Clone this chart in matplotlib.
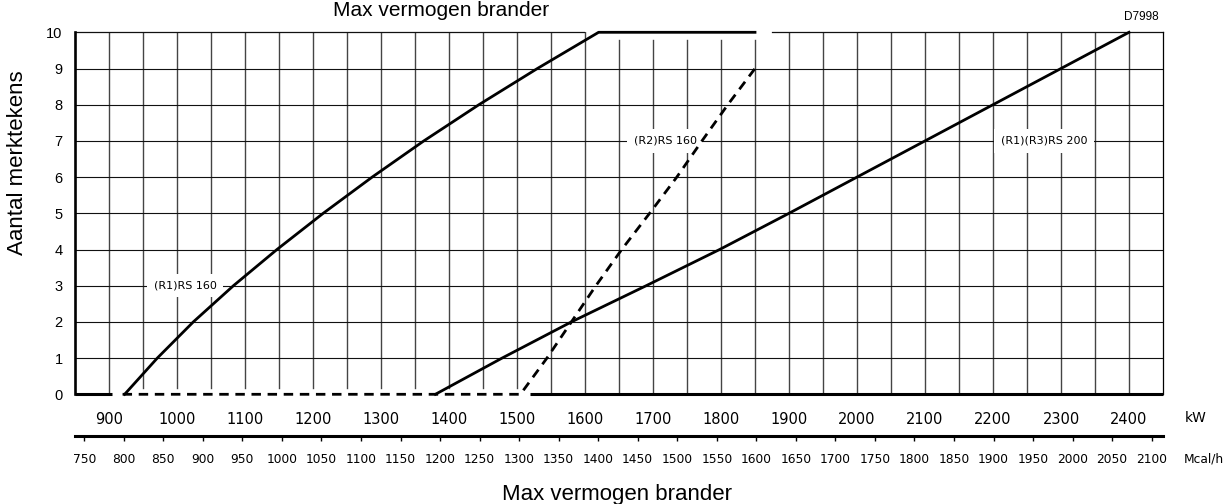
import matplotlib
matplotlib.use("Agg")
import matplotlib.pyplot as plt
import numpy as np

# ---------------- data ----------------
kw_ticks = list(range(900, 2401, 100))
mcal_ticks = list(range(750, 2101, 50))
y_ticks = list(range(0, 11))

rs160_r1_kw = [923, 971, 1024, 1083, 1147, 1215, 1287, 1363, 1444, 1530, 1620, 1850]
rs160_r1_n = [0, 1, 2, 3, 4, 5, 6, 7, 8, 9, 10, 10]

rs160_r2_kw = [920, 1505, 1544, 1580, 1616, 1654, 1695, 1735, 1772, 1810, 1850]
rs160_r2_n = [0, 0, 1, 2, 3, 4, 5, 6, 7, 8, 9]

rs200_kw = [1380, 1478, 1580, 1690, 1798, 1900, 2000, 2100, 2200, 2300, 2400]
rs200_n = [0, 1, 2, 3, 4, 5, 6, 7, 8, 9, 10]

base_solid_kw = [(850, 905), (1519, 2450)]
top_border_kw = [(850, 1598), (1875, 2450)]

label_texts = ["(R1)RS 160", "(R2)RS 160", "(R1)(R3)RS 200"]
label_kw = [1012, 1718, 2275]
label_n = [3, 7, 7]

KW_MIN, KW_MAX = 850, 2450


def kw_to_mcal(k):
    return (k + 8.5) * 0.86


# ---------------- figure ----------------
fig = plt.figure(figsize=(12.29, 5.04), dpi=100)
L, B, W, H = 75 / 1229, (504 - 394.3) / 504, 1088 / 1229, 362 / 504
ax = fig.add_axes([L, B, W, H])
ax.set_xlim(KW_MIN, KW_MAX)
ax.set_ylim(0, 10)

# grid
for x in np.arange(900, 2401, 50):
    y0 = 0.17 if 905 < x < 1515 else 0
    y1 = 9.8 if 1620 < x <= 1850 else 10
    ax.plot([x, x], [y0, y1], color="#444444", lw=1.0, zorder=1)
for y in range(1, 10):
    ax.plot([KW_MIN, KW_MAX], [y, y], color="#111111", lw=0.8, zorder=1)
for a, b in top_border_kw:
    ax.plot([a, b], [10, 10], color="#111111", lw=0.9, zorder=1, clip_on=False)
for a, b in base_solid_kw:
    ax.plot([a, b], [0, 0], color="black", lw=2.2, zorder=3, clip_on=False,
            solid_capstyle="butt")

# curves
ax.plot(rs160_r1_kw, rs160_r1_n, color="black", lw=2.0, zorder=3, clip_on=False)
ax.plot(rs200_kw, rs200_n, color="black", lw=2.0, zorder=3, clip_on=False)
ax.plot(rs160_r2_kw, rs160_r2_n, color="black", lw=2.0, zorder=3, clip_on=False,
        linestyle=(0, (3.4, 2.4)))

# curve labels
for t, xk, yn in zip(label_texts, label_kw, label_n):
    ax.text(xk, yn, t, fontsize=8, ha="center", va="center", zorder=2,
            family="DejaVu Sans",
            bbox=dict(boxstyle="square,pad=0.6", fc="white", ec="none"))

# spines & ticks
for s in ["top", "bottom"]:
    ax.spines[s].set_visible(False)
ax.spines["left"].set_linewidth(1.9)
ax.spines["right"].set_linewidth(0.9)
ax.set_yticks(y_ticks)
ax.set_yticklabels([str(v) for v in y_ticks], fontsize=10.5, family="Liberation Sans")
ax.tick_params(axis="y", length=0, pad=9)
ax.set_xticks(kw_ticks)
ax.set_xticklabels([str(v) for v in kw_ticks], fontsize=10.5, family="DejaVu Sans")
ax.tick_params(axis="x", length=0, pad=13)

# secondary Mcal/h axis
ax2 = fig.add_axes([L, (504 - 436) / 504, W, 1e-5])
ax2.set_xlim(kw_to_mcal(KW_MIN), kw_to_mcal(KW_MAX))
ax2.patch.set_visible(False)
for s in ["top", "left", "right"]:
    ax2.spines[s].set_visible(False)
ax2.spines["bottom"].set_linewidth(2.2)
ax2.set_yticks([])
ax2.set_xticks(mcal_ticks)
ax2.set_xticklabels([str(v) for v in mcal_ticks], fontsize=8.8, family="DejaVu Sans")
ax2.tick_params(axis="x", direction="out", length=3.5, width=1.0, pad=9)

# unit labels
fig.text(1185 / 1229, (504 - 418) / 504, "kW", fontsize=10, ha="left", va="center",
         family="DejaVu Sans")
fig.text(1184 / 1229, (504 - 459) / 504, "Mcal/h", fontsize=8.8, ha="left", va="center",
         family="DejaVu Sans")

# titles
fig.text(617 / 1229, 4 / 504, "Max vermogen brander", fontsize=16, ha="center",
         va="baseline", family="Liberation Sans")
fig.text(441 / 1229, 1 - 1 / 504, "Max vermogen brander", fontsize=15, ha="center",
         va="top", family="Liberation Sans")
fig.text(18 / 1229, (504 - 163) / 504, "Aantal merktekens", fontsize=16, ha="center",
         va="center", rotation=90, family="Liberation Sans")
fig.text(1141 / 1229, (504 - 17) / 504, "D7998", fontsize=8.5, ha="center",
         va="center", family="Liberation Sans")

fig.savefig("out.png", dpi=100)
